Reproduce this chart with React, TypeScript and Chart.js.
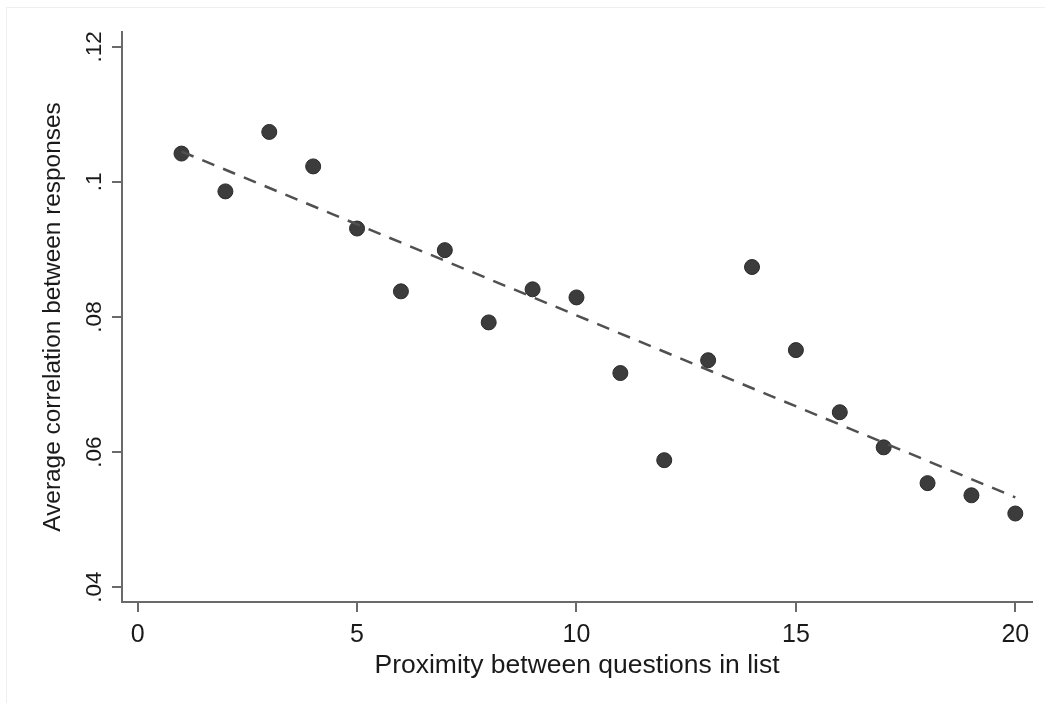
import React, { useEffect, useRef } from "react";
import { Chart, registerables } from "chart.js";

Chart.register(...registerables);

// Data
const proximity = [1, 2, 3, 4, 5, 6, 7, 8, 9, 10, 11, 12, 13, 14, 15, 16, 17, 18, 19, 20];
const avgCorrelation = [
  0.1042, 0.0986, 0.1074, 0.1023, 0.0931, 0.0838, 0.0899, 0.0792, 0.0841, 0.0829,
  0.0717, 0.0588, 0.0736, 0.0874, 0.0751, 0.0659, 0.0607, 0.0554, 0.0536, 0.0509,
];
// Fitted line end points
const fitX = [1, 20];
const fitY = [0.1045, 0.0533];

const xTicks = [0, 5, 10, 15, 20];
const yTicks = [0.04, 0.06, 0.08, 0.1, 0.12];

const xTitle = "Proximity between questions in list";
const yTitle = "Average correlation between responses";

const FONT = "'Liberation Sans', Arial, sans-serif";

export default function App() {
  const ref = useRef<HTMLCanvasElement | null>(null);

  useEffect(() => {
    document.body.style.margin = "0";
    const canvas = ref.current;
    if (!canvas) return;
    const chart = new Chart(canvas, {
      type: "scatter",
      data: {
        datasets: [
          {
            type: "line",
            label: "fit",
            data: fitX.map((x, i) => ({ x, y: fitY[i] })),
            borderColor: "#505050",
            borderWidth: 2.5,
            borderDash: [13, 9.5],
            pointRadius: 0,
            fill: false,
            showLine: true,
          },
          {
            type: "scatter",
            label: "points",
            data: proximity.map((x, i) => ({ x, y: avgCorrelation[i] })),
            backgroundColor: "#3c3c3c",
            borderColor: "#2a2a2a",
            borderWidth: 1,
            pointRadius: 7.5,
          },
        ],
      },
      options: {
        responsive: false,
        animation: false,
        devicePixelRatio: 1,
        layout: { padding: { left: 0, top: 32, right: 13, bottom: 0 } },
        plugins: {
          legend: { display: false },
          tooltip: { enabled: false },
        },
        scales: {
          x: {
            type: "linear",
            min: -0.356,
            max: 20.38,
            afterBuildTicks: (s: any) => {
              s.ticks = xTicks.map((v) => ({ value: v }));
            },
            afterFit: (s: any) => {
              s.height = 101;
            },
            grid: {
              display: true,
              drawOnChartArea: false,
              drawTicks: true,
              tickLength: 10,
              color: "#6a6a6a",
              lineWidth: 2,
            },
            border: { display: true, color: "#6a6a6a", width: 2 },
            ticks: {
              color: "#1a1a1a",
              font: { family: FONT, size: 25 },
              padding: 8,
              maxRotation: 0,
              autoSkip: false,
              callback: (v: any) => String(v),
            },
            title: {
              display: true,
              text: xTitle,
              color: "#1a1a1a",
              font: { family: FONT, size: 26.5 },
              padding: { top: 0, bottom: 21 },
            },
          },
          y: {
            type: "linear",
            min: 0.0378,
            max: 0.1222,
            afterBuildTicks: (s: any) => {
              s.ticks = yTicks.map((v) => ({ value: v }));
            },
            afterFit: (s: any) => {
              s.width = 122;
            },
            grid: {
              display: true,
              drawOnChartArea: false,
              drawTicks: true,
              tickLength: 10,
              color: "#6a6a6a",
              lineWidth: 2,
            },
            border: { display: true, color: "#6a6a6a", width: 2 },
            ticks: {
              color: "#1a1a1a",
              font: { family: FONT, size: 22.5 },
              padding: 2,
              minRotation: 90,
              maxRotation: 90,
              crossAlign: "center",
              autoSkip: false,
              callback: (v: any) => {
                const s = String(Math.round(Number(v) * 100) / 100);
                return s.replace(/^0/, "");
              },
            },
            title: {
              display: true,
              text: yTitle,
              color: "#1a1a1a",
              font: { family: FONT, size: 24.4 },
              padding: { top: 39, bottom: 0 },
            },
          },
        },
      },
    });
    return () => chart.destroy();
  }, []);

  return (
    <div style={{ position: "relative", width: 1045, height: 703, background: "#fff" }}>
      <div
        style={{
          position: "absolute",
          left: 6,
          top: 7,
          right: 0,
          bottom: 0,
          borderLeft: "1px solid #efefef",
          borderTop: "1px solid #efefef",
          pointerEvents: "none",
        }}
      />
      <canvas ref={ref} width={1045} height={703} style={{ position: "absolute", left: 0, top: 0 }} />
    </div>
  );
}
